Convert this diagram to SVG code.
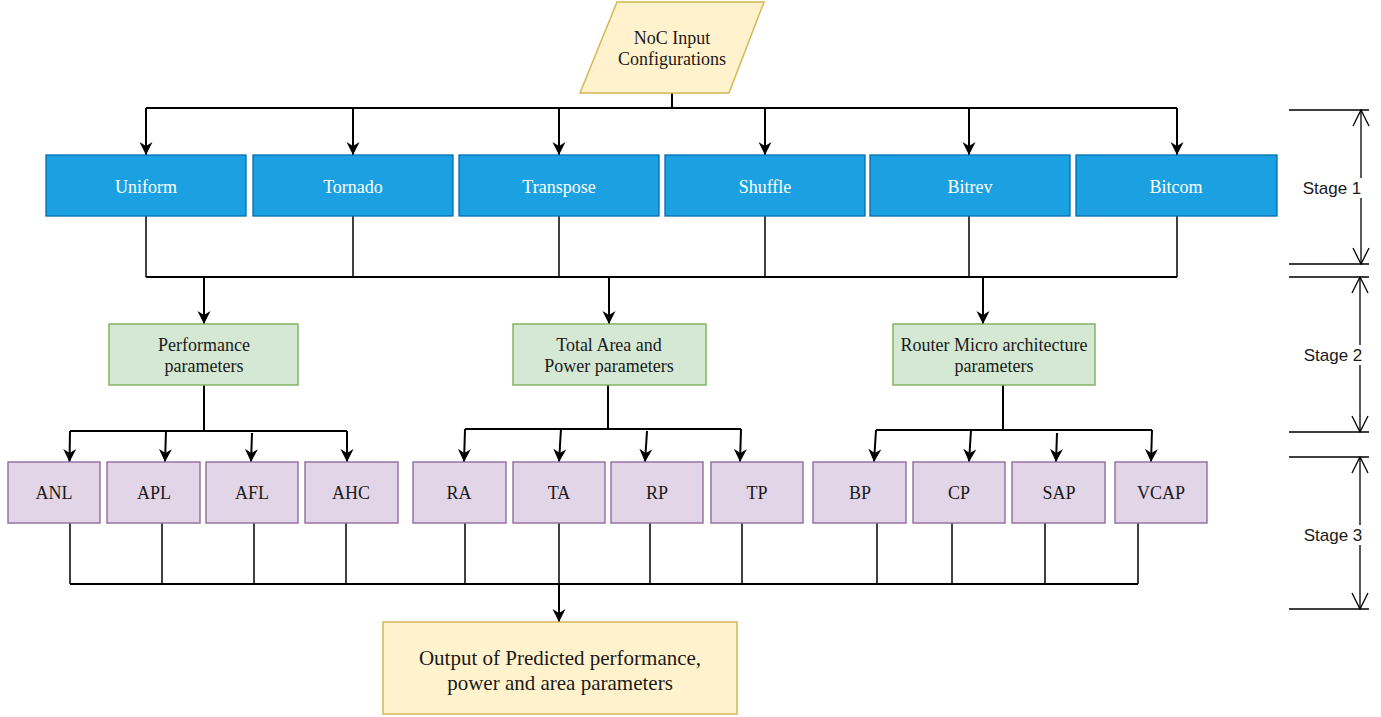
<svg xmlns="http://www.w3.org/2000/svg" width="1381" height="717" viewBox="0 0 1381 717">
  <style>
    .serif { font-family: "Liberation Serif", "Times New Roman", serif; font-size: 18px; fill: #1a1a1a; text-anchor: middle; }
    .white { fill: #ffffff; }
    .sans { font-family: "Liberation Sans", Arial, sans-serif; font-size: 17px; fill: #1a1a1a; text-anchor: middle; }
    .blue { fill: #1ba1e2; stroke: #006eaf; stroke-width: 1.3; }
    .green { fill: #d5e8d4; stroke: #82b366; stroke-width: 1.5; }
    .purple { fill: #e1d5e7; stroke: #9673a6; stroke-width: 1.5; }
    .yellow { fill: #fff2cc; stroke: #d6b656; stroke-width: 1.5; }
    .wire { fill: none; stroke: #000; stroke-width: 2; }
    .stem { fill: none; stroke: #000; stroke-width: 1.5; }
    .arrow { fill: none; stroke: #000; stroke-width: 2; marker-end: url(#head); }
    .dim { fill: none; stroke: #000; stroke-width: 1.3; }
    .span { fill: none; stroke: #000; stroke-width: 1.3; marker-start: url(#open); marker-end: url(#open); }
  </style>
  <defs>
    <marker id="head" viewBox="0 0 14 14" refX="13" refY="7" markerWidth="14" markerHeight="14" markerUnits="userSpaceOnUse" orient="auto">
      <path d="M0,0.5 L13,7 L0,13.5 L4,7 z" fill="#000"/>
    </marker>
    <marker id="open" viewBox="0 0 18 18" refX="17" refY="9" markerWidth="18" markerHeight="18" markerUnits="userSpaceOnUse" orient="auto-start-reverse">
      <path d="M1,1 L17,9 L1,17" fill="none" stroke="#000" stroke-width="1.3"/>
    </marker>
  </defs>

  <rect width="1381" height="717" fill="#ffffff"/>

  <!-- connectors -->
  <g id="connectors">
    <!-- input to traffic patterns -->
    <path class="wire" d="M672,93 V108"/>
    <path class="wire" d="M146,108 H1177"/>
    <path class="arrow" d="M146,108 V155"/>
    <path class="arrow" d="M353,108 V155"/>
    <path class="arrow" d="M559,108 V155"/>
    <path class="arrow" d="M765,108 V155"/>
    <path class="arrow" d="M969,108 V155"/>
    <path class="arrow" d="M1177,108 V155"/>

    <!-- traffic patterns to parameter groups -->
    <path class="stem" d="M146,216 V277"/>
    <path class="stem" d="M353,216 V277"/>
    <path class="stem" d="M559,216 V277"/>
    <path class="stem" d="M765,216 V277"/>
    <path class="stem" d="M969,216 V277"/>
    <path class="stem" d="M1177,216 V277"/>
    <path class="wire" d="M146,277 H1177"/>
    <path class="arrow" d="M204,277 V324"/>
    <path class="arrow" d="M609,277 V324"/>
    <path class="arrow" d="M983,277 V324"/>

    <!-- performance parameters fan-out -->
    <path class="wire" d="M204,385 V431"/>
    <path class="wire" d="M70,431 H347"/>
    <path class="arrow" d="M70,431 L69.5,462"/>
    <path class="arrow" d="M166,431 L165,462"/>
    <path class="arrow" d="M252,433 L251,462"/>
    <path class="arrow" d="M347,431 V462"/>

    <!-- area and power fan-out -->
    <path class="wire" d="M608,385 V429"/>
    <path class="wire" d="M465,429 H741"/>
    <path class="arrow" d="M465,429 L464,462"/>
    <path class="arrow" d="M561,429 L559,462"/>
    <path class="arrow" d="M647,431 L645,462"/>
    <path class="arrow" d="M741,429 L740,462"/>

    <!-- router micro architecture fan-out -->
    <path class="wire" d="M1003,385 V430"/>
    <path class="wire" d="M876,430 H1152"/>
    <path class="arrow" d="M876,430 L874,462"/>
    <path class="arrow" d="M971,430 L969,462"/>
    <path class="arrow" d="M1057,433 L1056,462"/>
    <path class="arrow" d="M1152,430 L1151,462"/>

    <!-- parameters to output -->
    <path class="stem" d="M70,523 V584"/>
    <path class="stem" d="M162,523 V584"/>
    <path class="stem" d="M254,523 V584"/>
    <path class="stem" d="M346,523 V584"/>
    <path class="stem" d="M465,523 V584"/>
    <path class="stem" d="M559,523 V584"/>
    <path class="stem" d="M650,523 V584"/>
    <path class="stem" d="M742,523 V584"/>
    <path class="stem" d="M877,523 V584"/>
    <path class="stem" d="M952,523 V584"/>
    <path class="stem" d="M1045,523 V584"/>
    <path class="stem" d="M1138,523 V584"/>
    <path class="wire" d="M70,584 H1138"/>
    <path class="arrow" d="M559,584 V622"/>
  </g>

  <!-- input -->
  <g id="input">
    <polygon class="yellow" points="617,2 764,2 729,93 580,93"/>
    <text class="serif" x="672" y="44">NoC Input</text>
    <text class="serif" x="672" y="65">Configurations</text>
  </g>

  <!-- traffic patterns -->
  <g id="uniform"><rect class="blue" x="46" y="155" width="200" height="61"/><text class="serif white" x="146" y="193">Uniform</text></g>
  <g id="tornado"><rect class="blue" x="253" y="155" width="200" height="61"/><text class="serif white" x="353" y="193">Tornado</text></g>
  <g id="transpose"><rect class="blue" x="459" y="155" width="200" height="61"/><text class="serif white" x="559" y="193">Transpose</text></g>
  <g id="shuffle"><rect class="blue" x="665" y="155" width="200" height="61"/><text class="serif white" x="765" y="193">Shuffle</text></g>
  <g id="bitrev"><rect class="blue" x="870" y="155" width="200" height="61"/><text class="serif white" x="970" y="193">Bitrev</text></g>
  <g id="bitcom"><rect class="blue" x="1076" y="155" width="201" height="61"/><text class="serif white" x="1176" y="193">Bitcom</text></g>

  <!-- parameter groups -->
  <g id="performance">
    <rect class="green" x="109" y="324" width="189" height="61"/>
    <text class="serif" x="204" y="351">Performance</text>
    <text class="serif" x="204" y="372">parameters</text>
  </g>
  <g id="area-power">
    <rect class="green" x="513" y="324" width="193" height="61"/>
    <text class="serif" x="609" y="351">Total Area and</text>
    <text class="serif" x="609" y="372">Power parameters</text>
  </g>
  <g id="router">
    <rect class="green" x="893" y="324" width="202" height="61"/>
    <text class="serif" x="994" y="351">Router Micro architecture</text>
    <text class="serif" x="994" y="372">parameters</text>
  </g>

  <!-- individual parameters -->
  <g id="anl"><rect class="purple" x="8" y="462" width="92" height="61"/><text class="serif" x="54" y="499">ANL</text></g>
  <g id="apl"><rect class="purple" x="107" y="462" width="93" height="61"/><text class="serif" x="154" y="499">APL</text></g>
  <g id="afl"><rect class="purple" x="206" y="462" width="92" height="61"/><text class="serif" x="252" y="499">AFL</text></g>
  <g id="ahc"><rect class="purple" x="305" y="462" width="93" height="61"/><text class="serif" x="351" y="499">AHC</text></g>
  <g id="ra"><rect class="purple" x="413" y="462" width="93" height="61"/><text class="serif" x="459" y="499">RA</text></g>
  <g id="ta"><rect class="purple" x="513" y="462" width="92" height="61"/><text class="serif" x="559" y="499">TA</text></g>
  <g id="rp"><rect class="purple" x="611" y="462" width="92" height="61"/><text class="serif" x="657" y="499">RP</text></g>
  <g id="tp"><rect class="purple" x="711" y="462" width="92" height="61"/><text class="serif" x="757" y="499">TP</text></g>
  <g id="bp"><rect class="purple" x="813" y="462" width="93" height="61"/><text class="serif" x="860" y="499">BP</text></g>
  <g id="cp"><rect class="purple" x="913" y="462" width="92" height="61"/><text class="serif" x="959" y="499">CP</text></g>
  <g id="sap"><rect class="purple" x="1012" y="462" width="93" height="61"/><text class="serif" x="1059" y="499">SAP</text></g>
  <g id="vcap"><rect class="purple" x="1115" y="462" width="92" height="61"/><text class="serif" x="1161" y="499">VCAP</text></g>

  <!-- output -->
  <g id="output">
    <rect class="yellow" x="383" y="622" width="354" height="92"/>
    <text class="serif" x="560" y="665" style="font-size:21px">Output of Predicted performance,</text>
    <text class="serif" x="560" y="690" style="font-size:21px">power and area parameters</text>
  </g>

  <!-- stage spans -->
  <g id="stage-1">
    <path class="dim" d="M1289,110 H1369 M1289,264 H1369"/>
    <path class="span" d="M1361,110 V264"/>
    <rect x="1301" y="178" width="62" height="20" fill="#ffffff"/>
    <text class="sans" x="1332" y="194">Stage 1</text>
  </g>
  <g id="stage-2">
    <path class="dim" d="M1289,277 H1369 M1289,432 H1369"/>
    <path class="span" d="M1360,277 V432"/>
    <rect x="1301" y="345" width="64" height="20" fill="#ffffff"/>
    <text class="sans" x="1333" y="361">Stage 2</text>
  </g>
  <g id="stage-3">
    <path class="dim" d="M1289,457 H1369 M1289,609 H1369"/>
    <path class="span" d="M1360,457 V609"/>
    <rect x="1301" y="525" width="64" height="20" fill="#ffffff"/>
    <text class="sans" x="1333" y="541">Stage 3</text>
  </g>
</svg>
